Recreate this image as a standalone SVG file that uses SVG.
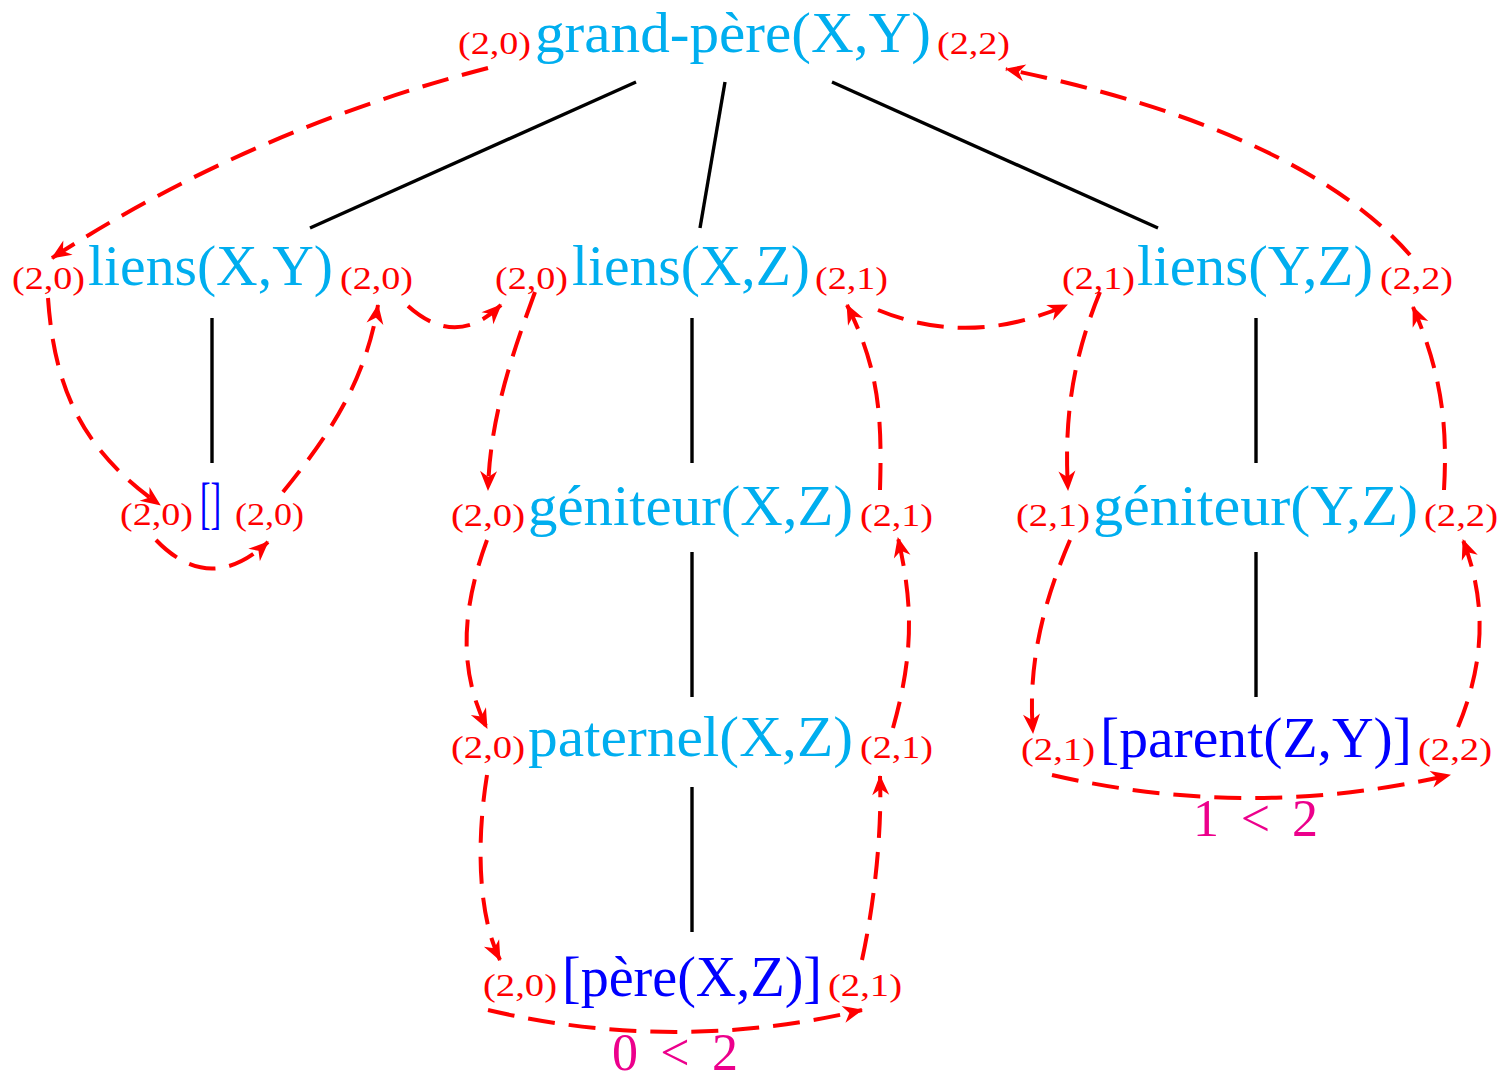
<svg xmlns="http://www.w3.org/2000/svg" width="1501" height="1079" viewBox="0 0 1501 1079">
<style>
text{font-family:"Liberation Serif","DejaVu Serif",serif;}
.m{font-size:56px;fill:#00AEEF;}
.b{font-size:56px;fill:#0000FF;}
.s{font-size:32px;fill:#FF0000;}
.c{font-size:52px;fill:#EC008C;}
.e{stroke:#000;stroke-width:3.4;fill:none;}
.r{stroke:#FF0000;stroke-width:4;fill:none;stroke-dasharray:27 14;marker-end:url(#arr);}
</style>
<defs>
<marker id="arr" markerUnits="userSpaceOnUse" viewBox="-21 -10 23 20" markerWidth="23" markerHeight="20" refX="0" refY="0" orient="auto">
<path d="M1,0 L-19,-8.5 L-13,0 L-19,8.5 Z" fill="#FF0000"/>
</marker>
</defs>
<rect width="1501" height="1079" fill="#fff"/>
<g id="connectors">
<line class="e" x1="636" y1="82" x2="310" y2="228"/>
<line class="e" x1="725" y1="82" x2="700" y2="228"/>
<line class="e" x1="832" y1="82" x2="1158" y2="228"/>
<line class="e" x1="212" y1="318" x2="212" y2="463"/>
<line class="e" x1="692" y1="318" x2="692" y2="463"/>
<line class="e" x1="1256" y1="318" x2="1256" y2="463"/>
<line class="e" x1="692" y1="552" x2="692" y2="697"/>
<line class="e" x1="1256" y1="552" x2="1256" y2="697"/>
<line class="e" x1="692" y1="787" x2="692" y2="932"/>
<path class="r" d="M488,68 Q250,130 52,258"/>
<path class="r" d="M1410,255 Q1300,130 1006,69"/>
<path class="r" d="M48,298 C55,400 90,455 160,505"/>
<path class="r" d="M156,540 Q210,596 268,542"/>
<path class="r" d="M283,492 C325,440 365,385 378,305"/>
<path class="r" d="M408,306 Q456,349 501,305"/>
<path class="r" d="M535,292 C510,360 490,420 488,490"/>
<path class="r" d="M487,540 C465,600 455,665 487,728"/>
<path class="r" d="M487,775 C475,850 480,920 500,960"/>
<path class="r" d="M488,1010 Q675,1054 862,1010"/>
<path class="r" d="M862,960 C875,900 882,830 880,776"/>
<path class="r" d="M893,728 C915,650 912,600 898,538"/>
<path class="r" d="M880,490 C882,420 880,370 847,305"/>
<path class="r" d="M878,310 Q970,348 1067,305"/>
<path class="r" d="M1100,292 C1072,360 1064,420 1068,490"/>
<path class="r" d="M1070,540 C1040,610 1028,670 1033,733"/>
<path class="r" d="M1052,775 Q1250,821 1450,775"/>
<path class="r" d="M1458,727 C1490,650 1482,590 1463,540"/>
<path class="r" d="M1444,490 C1448,420 1440,370 1413,307"/>
</g>
<g id="n-grandpere">
<text class="s" x="458" y="54" textLength="73" lengthAdjust="spacingAndGlyphs">(2,0)</text>
<text class="m" x="535" y="52" textLength="396" lengthAdjust="spacingAndGlyphs">grand-père(X,Y)</text>
<text class="s" x="937" y="54" textLength="73" lengthAdjust="spacingAndGlyphs">(2,2)</text>
</g>
<g id="n-liensXY">
<text class="s" x="12" y="289" textLength="73" lengthAdjust="spacingAndGlyphs">(2,0)</text>
<text class="m" x="88" y="285" textLength="245" lengthAdjust="spacingAndGlyphs">liens(X,Y)</text>
<text class="s" x="340" y="289" textLength="73" lengthAdjust="spacingAndGlyphs">(2,0)</text>
</g>
<g id="n-liensXZ">
<text class="s" x="495" y="289" textLength="73" lengthAdjust="spacingAndGlyphs">(2,0)</text>
<text class="m" x="572" y="285" textLength="238" lengthAdjust="spacingAndGlyphs">liens(X,Z)</text>
<text class="s" x="815" y="289" textLength="73" lengthAdjust="spacingAndGlyphs">(2,1)</text>
</g>
<g id="n-liensYZ">
<text class="s" x="1062" y="289" textLength="73" lengthAdjust="spacingAndGlyphs">(2,1)</text>
<text class="m" x="1137" y="285" textLength="236" lengthAdjust="spacingAndGlyphs">liens(Y,Z)</text>
<text class="s" x="1380" y="289" textLength="73" lengthAdjust="spacingAndGlyphs">(2,2)</text>
</g>
<g id="n-vide">
<text class="s" x="120" y="525" textLength="73" lengthAdjust="spacingAndGlyphs">(2,0)</text>
<text class="b" x="200" y="522" textLength="21" lengthAdjust="spacingAndGlyphs">[]</text>
<text class="s" x="235" y="525" textLength="69" lengthAdjust="spacingAndGlyphs">(2,0)</text>
</g>
<g id="n-geniteurXZ">
<text class="s" x="451" y="526" textLength="74" lengthAdjust="spacingAndGlyphs">(2,0)</text>
<text class="m" x="528" y="525" textLength="325" lengthAdjust="spacingAndGlyphs">géniteur(X,Z)</text>
<text class="s" x="860" y="526" textLength="73" lengthAdjust="spacingAndGlyphs">(2,1)</text>
</g>
<g id="n-geniteurYZ">
<text class="s" x="1016" y="526" textLength="74" lengthAdjust="spacingAndGlyphs">(2,1)</text>
<text class="m" x="1093" y="525" textLength="325" lengthAdjust="spacingAndGlyphs">géniteur(Y,Z)</text>
<text class="s" x="1424" y="526" textLength="74" lengthAdjust="spacingAndGlyphs">(2,2)</text>
</g>
<g id="n-paternel">
<text class="s" x="451" y="758" textLength="74" lengthAdjust="spacingAndGlyphs">(2,0)</text>
<text class="m" x="528" y="756" textLength="325" lengthAdjust="spacingAndGlyphs">paternel(X,Z)</text>
<text class="s" x="860" y="758" textLength="73" lengthAdjust="spacingAndGlyphs">(2,1)</text>
</g>
<g id="n-parent">
<text class="s" x="1021" y="760" textLength="74" lengthAdjust="spacingAndGlyphs">(2,1)</text>
<text class="b" x="1100" y="757" textLength="312" lengthAdjust="spacingAndGlyphs">[parent(Z,Y)]</text>
<text class="s" x="1418" y="760" textLength="74" lengthAdjust="spacingAndGlyphs">(2,2)</text>
</g>
<g id="n-pere">
<text class="s" x="483" y="996" textLength="74" lengthAdjust="spacingAndGlyphs">(2,0)</text>
<text class="b" x="562" y="996" textLength="260" lengthAdjust="spacingAndGlyphs">[père(X,Z)]</text>
<text class="s" x="828" y="996" textLength="74" lengthAdjust="spacingAndGlyphs">(2,1)</text>
</g>
<g id="labels">
<text class="c" x="612" y="1070" textLength="126" lengthAdjust="spacing">0 &lt; 2</text>
<text class="c" x="1193" y="836" textLength="125" lengthAdjust="spacing">1 &lt; 2</text>
</g>
</svg>
